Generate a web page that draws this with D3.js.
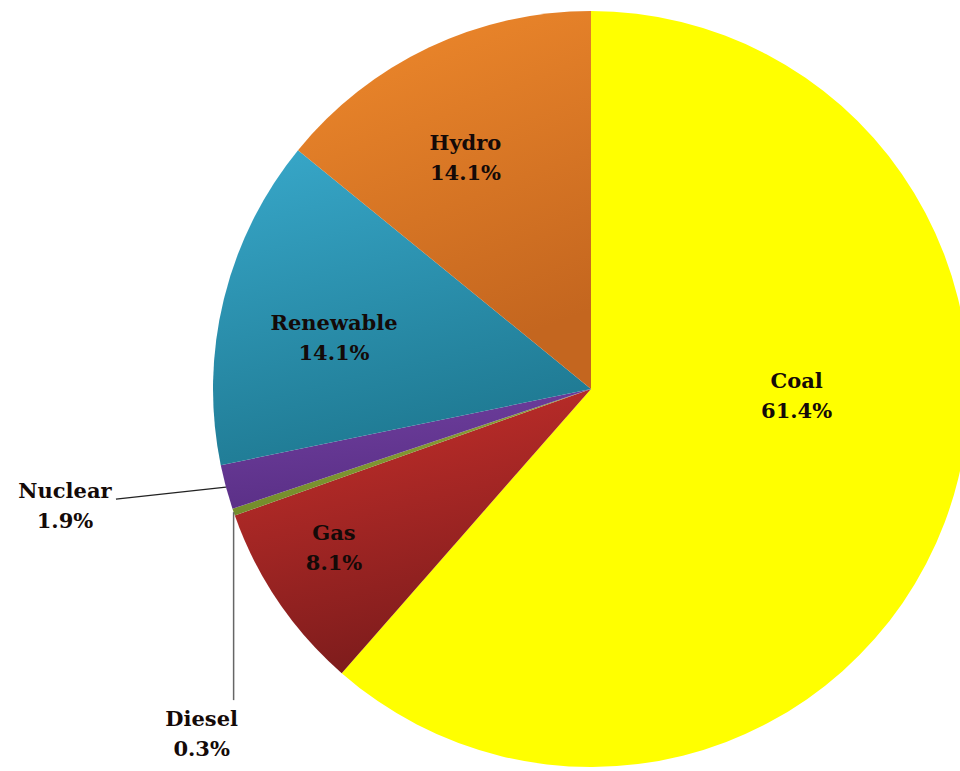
<html>
<script src="https://d3js.org/d3.v7.min.js"></script>
<style>
body { margin: 0; background: white; }
.lbl { font-family: "DejaVu Serif", serif; font-weight: bold; font-size: 21px; fill: #140a08; }
</style>
<div id="chart"></div>
<script>
// data
var sources = ["Coal", "Gas", "Diesel", "Nuclear", "Renewable", "Hydro"];
var shares = [61.4, 8.1, 0.3, 1.9, 14.1, 14.1];
var topColors = ["#ffff00", "#c9302c", "#9aa83a", "#7040a0", "#38a8ca", "#f08a2c"];
var bottomColors = ["#ffff00", "#7e1c1c", "#6f8a2a", "#5a2f86", "#1f7a93", "#c4661f"];

var width = 960, height = 771;
var cx = 591, cy = 389, r = 378;

var svg = d3.select("#chart").append("svg")
    .attr("width", width)
    .attr("height", height);

var defs = svg.append("defs");
sources.forEach(function(s, i) {
  var g = defs.append("linearGradient")
      .attr("id", "grad" + i)
      .attr("x1", 0).attr("y1", 0).attr("x2", 0.3).attr("y2", 1);
  g.append("stop").attr("offset", "0%").attr("stop-color", topColors[i]);
  g.append("stop").attr("offset", "100%").attr("stop-color", bottomColors[i]);
});

var rows = sources.map(function(s, i) { return {name: s, value: shares[i], i: i}; });

var pie = d3.pie().sort(null).value(function(d) { return d.value; });
var arcs = pie(rows);

var arc = d3.arc().innerRadius(0).outerRadius(r);
var labelArc = d3.arc().innerRadius(r * 0.7).outerRadius(r * 0.7);
var edgeArc = d3.arc().innerRadius(r).outerRadius(r);

var g = svg.append("g").attr("transform", "translate(" + cx + "," + cy + ")");

g.selectAll("path.slice")
  .data(arcs)
  .enter()
  .append("path")
    .attr("class", "slice")
    .attr("d", arc)
    .attr("fill", function(d) { return "url(#grad" + d.data.i + ")"; });

// nudges for the inside labels
var nudge = {Coal: [-42, -88], Gas: [-38, 8], Hydro: [-12, 6], Renewable: [0, 10]};

var inside = arcs.filter(function(d) { return nudge[d.data.name]; });
inside.forEach(function(d) {
  var c = labelArc.centroid(d);
  var x = c[0] + nudge[d.data.name][0], y = c[1] + nudge[d.data.name][1];
  var t = g.append("text").attr("class", "lbl").attr("text-anchor", "middle");
  t.append("tspan").attr("x", x).attr("y", y - 6).text(d.data.name);
  t.append("tspan").attr("x", x).attr("y", y + 24).text(d3.format(".1f")(d.data.value) + "%");
});

// outside labels with leader lines
var nuc = arcs[3], dsl = arcs[2];
var pN = edgeArc.centroid(nuc);
g.append("line")
  .attr("x1", pN[0]).attr("y1", pN[1])
  .attr("x2", pN[0] - 110).attr("y2", pN[1] + 12)
  .attr("stroke", "#222").attr("stroke-width", 1.5);
var tN = g.append("text").attr("class", "lbl").attr("text-anchor", "middle");
tN.append("tspan").attr("x", pN[0] - 161).attr("y", pN[1] + 11).text("Nuclear");
tN.append("tspan").attr("x", pN[0] - 161).attr("y", pN[1] + 41).text(d3.format(".1f")(nuc.data.value) + "%");

var pD = edgeArc.centroid(dsl);
g.append("line")
  .attr("x1", pD[0]).attr("y1", pD[1])
  .attr("x2", pD[0]).attr("y2", pD[1] + 188)
  .attr("stroke", "#666").attr("stroke-width", 1.5);
var tD = g.append("text").attr("class", "lbl").attr("text-anchor", "middle");
tD.append("tspan").attr("x", pD[0] - 32).attr("y", pD[1] + 214).text("Diesel");
tD.append("tspan").attr("x", pD[0] - 32).attr("y", pD[1] + 244).text(d3.format(".1f")(dsl.data.value) + "%");
</script>
</html>
